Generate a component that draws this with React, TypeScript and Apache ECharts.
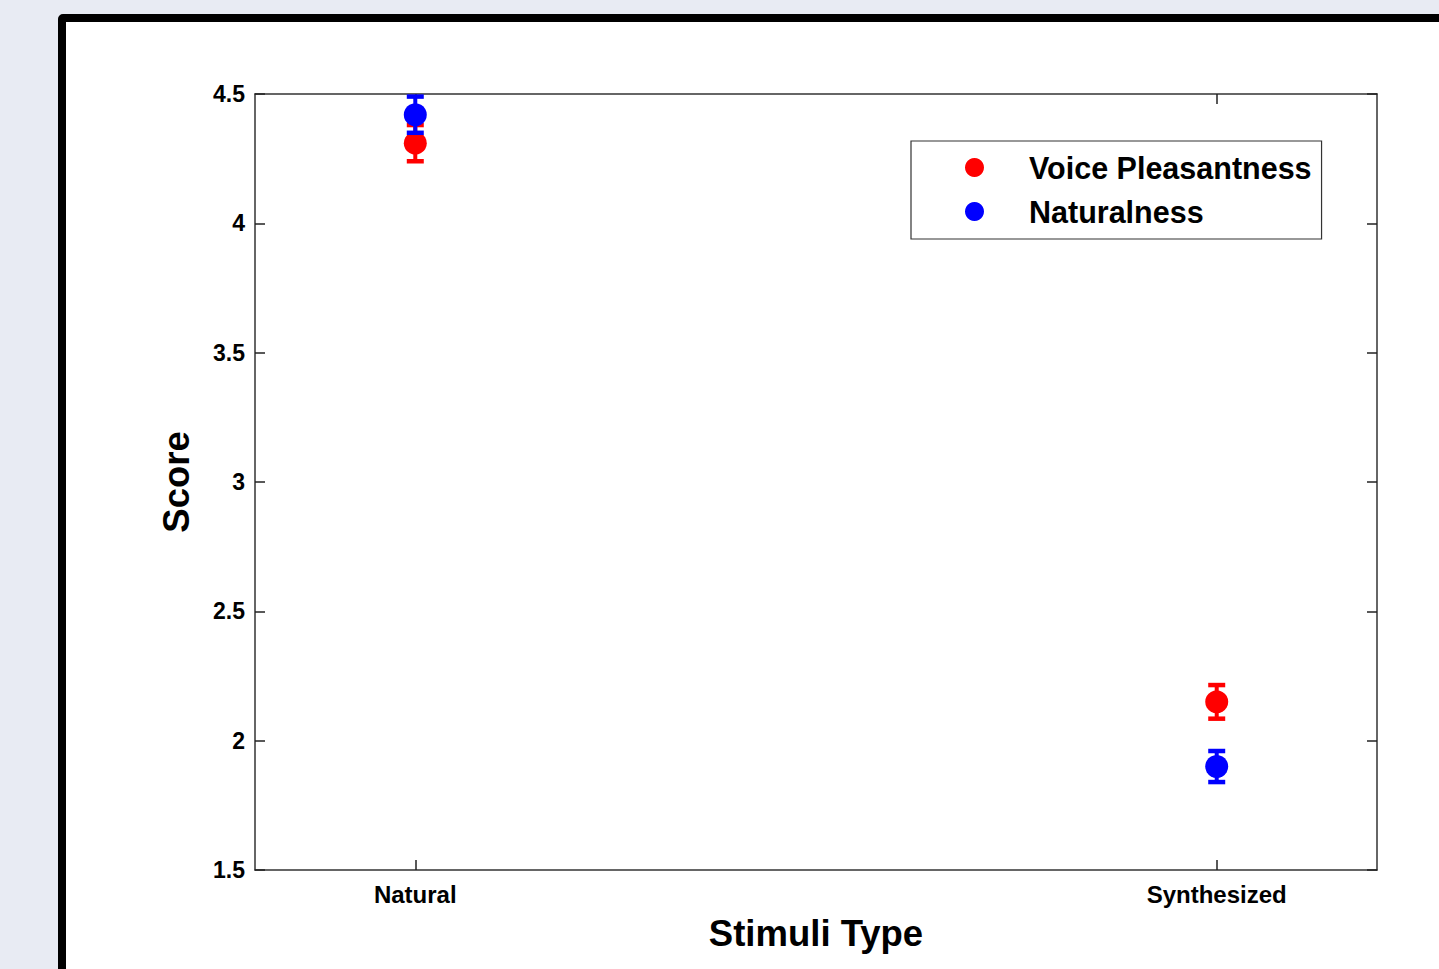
import React, { useEffect, useRef } from "react";
import * as echarts from "echarts";

const categories = ["Natural", "Synthesized"];
const categoryX = [1, 2];
const pleasantMean = [4.31, 2.15];
const pleasantErr = [0.07, 0.065];
const naturalMean = [4.42, 1.9];
const naturalErr = [0.07, 0.06];
const yTicks = [1.5, 2, 2.5, 3, 3.5, 4, 4.5];

const RED = "#ff0000";
const BLUE = "#0000ff";
const FONT = "'Liberation Sans', Arial, sans-serif";

function errorSeries(name: string, means: number[], errs: number[], color: string, z: number) {
  return {
    type: "custom",
    name,
    z,
    silent: true,
    data: means.map((m, i) => [categoryX[i], m, m - errs[i], m + errs[i]]),
    renderItem: (params: any, api: any) => {
      const x = api.value(0);
      const lo = api.coord([x, api.value(2)]);
      const hi = api.coord([x, api.value(3)]);
      const half = 8.5;
      return {
        type: "group",
        children: [
          { type: "line", shape: { x1: lo[0], y1: lo[1], x2: hi[0], y2: hi[1] }, style: { stroke: color, lineWidth: 4 } },
          { type: "line", shape: { x1: lo[0] - half, y1: lo[1], x2: lo[0] + half, y2: lo[1] }, style: { stroke: color, lineWidth: 4.5 } },
          { type: "line", shape: { x1: hi[0] - half, y1: hi[1], x2: hi[0] + half, y2: hi[1] }, style: { stroke: color, lineWidth: 4.5 } },
        ],
      };
    },
  };
}

export default function App() {
  const ref = useRef<HTMLDivElement>(null);
  useEffect(() => {
    if (!ref.current) return;
    const chart = echarts.init(ref.current, null, { renderer: "svg" });
    const axisLineStyle = { color: "#333", width: 1.5 };
    const tickStyle = { color: "#222", width: 1.5 };
    chart.setOption({
      animation: false,
      backgroundColor: "transparent",
      textStyle: { fontFamily: FONT },
      grid: { left: 255, top: 94, width: 1122, height: 776, containLabel: false },
      legend: {
        orient: "vertical",
        left: 911,
        top: 141,
        data: [
          { name: "Voice Pleasantness", icon: "circle" },
          { name: "Naturalness", icon: "circle" },
        ],
        itemWidth: 19,
        itemHeight: 19,
        itemGap: 13,
        padding: [11, 10, 12, 54],
        borderColor: "#333",
        borderWidth: 1.2,
        backgroundColor: "#fff",
        selectedMode: false,
        textStyle: {
          fontFamily: FONT,
          fontWeight: "bold",
          fontSize: 30.5,
          lineHeight: 30,
          color: "#000",
          padding: [0, 0, 0, 40],
        },
      },
      xAxis: [
        {
          type: "value",
          position: "bottom",
          min: 0.8,
          max: 2.2,
          name: "Stimuli Type",
          nameLocation: "middle",
          nameGap: 45,
          nameTextStyle: { fontFamily: FONT, fontWeight: "bold", fontSize: 36.5, color: "#000" },
          splitLine: { show: false },
          axisLine: { show: true, lineStyle: axisLineStyle },
          axisTick: { show: true, inside: true, length: 10, lineStyle: tickStyle, customValues: categoryX },
          axisLabel: {
            show: true,
            margin: 12,
            customValues: categoryX,
            formatter: (v: number) => categories[categoryX.indexOf(Math.round(v))] ?? "",
            fontFamily: FONT,
            fontWeight: "bold",
            fontSize: 24,
            color: "#000",
          },
        },
        {
          type: "value",
          position: "top",
          min: 0.8,
          max: 2.2,
          splitLine: { show: false },
          axisLine: { show: true, lineStyle: axisLineStyle },
          axisTick: { show: true, inside: true, length: 10, lineStyle: tickStyle, customValues: categoryX },
          axisLabel: { show: false },
        },
      ],
      yAxis: [
        {
          type: "value",
          position: "left",
          min: 1.5,
          max: 4.5,
          interval: 0.5,
          name: "Score",
          nameLocation: "middle",
          nameGap: 60,
          nameRotate: 90,
          nameTextStyle: { fontFamily: FONT, fontWeight: "bold", fontSize: 36.5, color: "#000" },
          splitLine: { show: false },
          axisLine: { show: true, lineStyle: axisLineStyle },
          axisTick: { show: true, inside: true, length: 10, lineStyle: tickStyle, customValues: yTicks },
          axisLabel: {
            margin: 10,
            customValues: yTicks,
            formatter: (v: number) => String(v),
            fontFamily: FONT,
            fontWeight: "bold",
            fontSize: 23,
            color: "#000",
          },
        },
        {
          type: "value",
          position: "right",
          min: 1.5,
          max: 4.5,
          interval: 0.5,
          splitLine: { show: false },
          axisLine: { show: true, lineStyle: axisLineStyle },
          axisTick: { show: true, inside: true, length: 10, lineStyle: tickStyle, customValues: yTicks },
          axisLabel: { show: false },
        },
      ],
      series: [
        errorSeries("VP error", pleasantMean, pleasantErr, RED, 2),
        {
          type: "scatter",
          name: "Voice Pleasantness",
          z: 3,
          symbol: "circle",
          symbolSize: 23,
          itemStyle: { color: RED, opacity: 1 },
          data: pleasantMean.map((m, i) => [categoryX[i], m]),
        },
        errorSeries("N error", naturalMean, naturalErr, BLUE, 4),
        {
          type: "scatter",
          name: "Naturalness",
          z: 5,
          symbol: "circle",
          symbolSize: 23,
          itemStyle: { color: BLUE, opacity: 1 },
          data: naturalMean.map((m, i) => [categoryX[i], m]),
        },
      ],
    });
    return () => chart.dispose();
  }, []);

  return (
    <div style={{ position: "fixed", left: 0, top: 0, width: 1439, height: 969, background: "#e8ebf3", overflow: "hidden" }}>
      <div
        style={{
          position: "absolute",
          left: 58,
          top: 14,
          width: 1500,
          height: 1100,
          boxSizing: "border-box",
          border: "8px solid #000",
          borderRadius: 5,
          background: "#fff",
        }}
      />
      <div ref={ref} style={{ position: "absolute", left: 0, top: 0, width: 1439, height: 969 }} />
    </div>
  );
}
